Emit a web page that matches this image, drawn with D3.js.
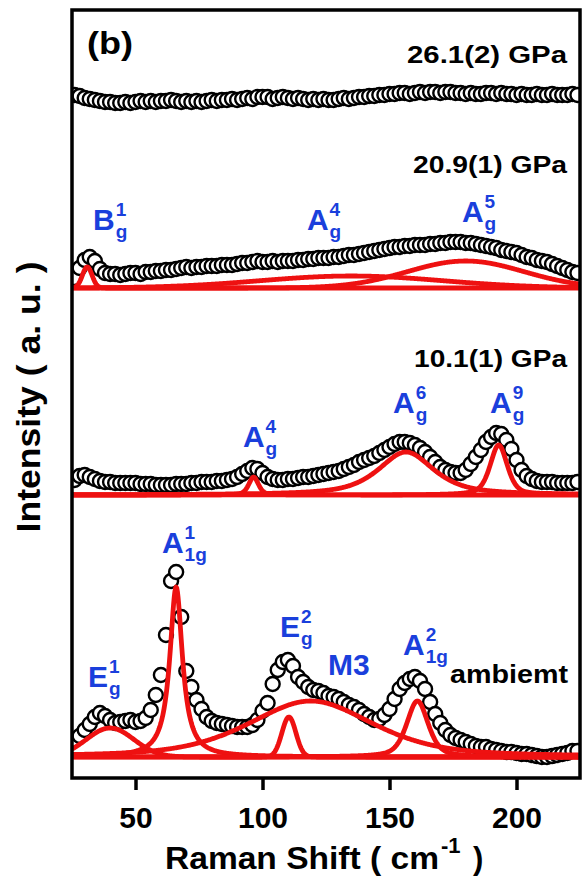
<!DOCTYPE html>
<html>
<head>
<meta charset="utf-8">
<script src="https://cdn.jsdelivr.net/npm/d3@7"></script>
<style>
body { margin: 0; background: #fff; }
svg text { font-family: "Liberation Sans", Arial, sans-serif; font-weight: bold; }
</style>
</head>
<body>
<svg id="chart" width="583" height="877"></svg>
<script>
// Raman shift grid (cm-1), one reading every 2 cm-1
const shift = d3.range(26, 225, 2)

// measured intensities (a.u.), each above its own baseline
const ambient = [
  17, 21, 27, 33, 40, 44, 41, 37, 34, 35,
  36, 37, 35, 36, 39, 47, 62, 82, 122, 176,
  185, 140, 86, 70, 57, 48, 40, 36, 34, 33,
  32, 31, 30, 30, 30, 32, 37, 46, 54, 73,
  87, 95, 97, 91, 80, 75, 70, 67, 66, 64,
  61, 60, 58, 55, 52, 50, 47, 43, 40, 37,
  38, 42, 48, 58, 68, 74, 78, 80, 76, 68,
  55, 43, 34, 27, 22, 19, 17, 15, 13, 11,
  10, 10, 8, 7, 6, 5, 5, 4, 3, 3,
  2, 1, 0, 0, 1, 2, 3, 4, 6, 6]

const gpa10 = [
  15, 19, 20, 18, 16, 14, 13, 13, 12, 12,
  12, 12, 12, 11, 11, 11, 10, 10, 10, 10,
  11, 11, 11, 12, 12, 13, 13, 13, 14, 14,
  15, 16, 18, 21, 24, 27, 26, 22, 18, 16,
  15, 15, 16, 16, 17, 18, 18, 19, 20, 21,
  22, 23, 24, 26, 28, 30, 33, 35, 37, 39,
  42, 45, 48, 51, 53, 53, 52, 50, 47, 43,
  38, 33, 28, 25, 23, 22, 22, 25, 31, 38,
  45, 53, 58, 62, 61, 55, 46, 35, 25, 19,
  16, 14, 13, 13, 13, 12, 12, 12, 12, 13]

const gpa21 = [
  10, 20, 28, 31, 27, 19, 15, 14, 14, 13,
  14, 15, 15, 14, 16, 16, 17, 17, 18, 18,
  19, 20, 21, 20, 21, 21, 22, 22, 22, 23,
  23, 23, 24, 25, 25, 26, 27, 26, 26, 27,
  26, 27, 27, 27, 28, 28, 29, 29, 30, 30,
  30, 31, 31, 32, 33, 33, 34, 35, 36, 37,
  38, 39, 40, 41, 41, 42, 42, 43, 43, 43,
  44, 44, 45, 45, 46, 46, 46, 45, 45, 44,
  43, 42, 41, 40, 38, 37, 36, 35, 33, 31,
  30, 28, 27, 26, 24, 22, 20, 18, 16, 15]

const gpa26 = [
  5, 4, 2, 1, 0, -1, -2, -2, -3, -3,
  -2, -3, -2, -1, -2, -1, -2, -1, -1, 0,
  -1, -2, -1, -2, -1, -2, -1, 0, -1, 0,
  0, 1, 0, 1, 2, 1, 3, 3, 3, 1,
  2, 3, 2, 1, 2, 1, 0, 1, 0, 1,
  0, 0, 1, 2, 1, 2, 3, 3, 4, 4,
  5, 5, 6, 6, 7, 7, 6, 7, 8, 7,
  8, 8, 7, 8, 8, 7, 7, 6, 7, 6,
  6, 7, 7, 6, 7, 6, 6, 5, 6, 5,
  5, 6, 5, 5, 6, 5, 5, 5, 6, 5]

// stacking offsets (a.u.) and pressure labels
const offsets = [21, 283, 490, 678]
const pressures = ['ambiemt', '10.1(1) GPa', '20.9(1) GPa', '26.1(2) GPa']

// fitted components: centre (cm-1), fwhm, height, lorentzian fraction
const ambientPeaks = [
  {mode: ['E', '1', 'g'], c: 40, w: 22, h: 29, eta: 0},
  {mode: ['A', '1', '1g'], c: 66, w: 6, h: 170, eta: 1},
  {mode: ['E', '2', 'g'], c: 110.4, w: 6.5, h: 40, eta: 0},
  {mode: ['M3', '', ''], c: 119, w: 58, h: 56, eta: 0.5},
  {mode: ['A', '2', '1g'], c: 161, w: 10, h: 56, eta: 0.5}
]
const gpa10Peaks = [
  {mode: ['A', '4', 'g'], c: 96.5, w: 4.5, h: 18, eta: 0.5},
  {mode: ['A', '6', 'g'], c: 156.5, w: 26, h: 43, eta: 0.7},
  {mode: ['A', '9', 'g'], c: 193, w: 8, h: 50, eta: 0.5}
]
const gpa21Peaks = [
  {mode: ['B', '1', 'g'], c: 31, w: 4.5, h: 21, eta: 0},
  {mode: ['A', '4', 'g'], c: 135, w: 85, h: 12, eta: 0},
  {mode: ['A', '5', 'g'], c: 180, w: 54, h: 27, eta: 0}
]

// where each mode label sits: [cm-1, a.u.]
const ambientLabelAt = [[31.3, 91], [60.4, 225], [106.9, 141], [125.8, 103], [155.3, 123]]
const gpa10LabelAt = [[92.3, 331], [151.4, 365], [189.6, 365]]
const gpa21LabelAt = [[33.3, 548], [117.5, 548], [178.5, 556]]

const xTicks = [50, 100, 150, 200]

const spectra = [
  {y: ambient, peaks: ambientPeaks, labels: ambientLabelAt},
  {y: gpa10, peaks: gpa10Peaks, labels: gpa10LabelAt},
  {y: gpa21, peaks: gpa21Peaks, labels: gpa21LabelAt},
  {y: gpa26, peaks: [], labels: []}
]

const margin = {top: 10, right: 3, bottom: 99, left: 72}
const W = 583, H = 877
const x = d3.scaleLinear().domain([25, 225]).range([margin.left, W - margin.right])
const y = d3.scaleLinear().domain([0, 768]).range([H - margin.bottom, margin.top])

const RED = '#ee1111', BLUE = '#1a3fdc'

const svg = d3.select('#chart')

svg.append('clipPath').attr('id', 'plotclip')
  .append('rect')
  .attr('x', x(25)).attr('y', y(768))
  .attr('width', x(225) - x(25)).attr('height', y(0) - y(768))

const plot = svg.append('g').attr('clip-path', 'url(#plotclip)')

function profile(p, v) {
  let u = (v - p.c) / p.w
  let g = Math.exp(-4 * Math.LN2 * u * u)
  let l = 1 / (1 + 4 * u * u)
  return p.h * (p.eta * l + (1 - p.eta) * g)
}

const fine = d3.range(25, 225.01, 0.25)

spectra.forEach((s, i) => {
  let off = offsets[i]
  let pts = shift.map((v, j) => [v, s.y[j] + off])

  plot.append('g').selectAll('circle')
    .data(pts)
    .join('circle')
    .attr('cx', d => x(d[0]))
    .attr('cy', d => y(d[1]))
    .attr('r', 7)
    .attr('fill', '#fff')
    .attr('stroke', '#000')
    .attr('stroke-width', 2.4)

  let line = d3.line().x(d => x(d[0])).y(d => y(d[1]))
  s.peaks.forEach(p => {
    plot.append('path')
      .datum(fine.map(v => [v, off + profile(p, v)]))
      .attr('d', line)
      .attr('fill', 'none')
      .attr('stroke', RED)
      .attr('stroke-width', 4.8)
      .attr('stroke-linejoin', 'round')
  })
})

// mode labels: main letter, superscript, subscript
spectra.forEach(s => {
  s.peaks.forEach((p, k) => {
    let at = s.labels[k]
    let g = svg.append('g').attr('fill', BLUE)
    let main = g.append('text')
      .attr('x', x(at[0])).attr('y', y(at[1]))
      .attr('font-size', 30)
      .text(p.mode[0])
    let wMain = main.node().getComputedTextLength()
    g.append('text')
      .attr('x', x(at[0]) + wMain + 1).attr('y', y(at[1]) - 14)
      .attr('font-size', 19)
      .text(p.mode[1])
    g.append('text')
      .attr('x', x(at[0]) + wMain + 1).attr('y', y(at[1]) + 8)
      .attr('font-size', 19)
      .text(p.mode[2])
  })
})

// pressure labels, right aligned near the frame
const pressAt = [[220.3, 95, 118, 25], [219.9, 411, 153, 24], [219.9, 605, 154, 24], [219.9, 715, 160, 24]]
pressures.forEach((t, i) => {
  let a = pressAt[i]
  svg.append('text')
    .attr('x', x(a[0]) - a[2]).attr('y', y(a[1]))
    .attr('font-size', a[3])
    .attr('textLength', a[2])
    .attr('lengthAdjust', 'spacingAndGlyphs')
    .text(t)
})

svg.append('text')
  .attr('x', 87).attr('y', 54)
  .attr('font-size', 31)
  .attr('textLength', 46)
  .attr('lengthAdjust', 'spacingAndGlyphs')
  .text('(b)')

// frame
svg.append('rect')
  .attr('x', x(25)).attr('y', y(768))
  .attr('width', x(225) - x(25)).attr('height', y(0) - y(768))
  .attr('fill', 'none').attr('stroke', '#000').attr('stroke-width', 3.5)

const xAxis = svg.append('g')
  .attr('transform', `translate(0,${y(0)})`)
  .call(d3.axisBottom(x).tickValues(xTicks).tickSize(12).tickPadding(17))
xAxis.select('.domain').remove()
xAxis.selectAll('.tick line').attr('stroke', '#000').attr('stroke-width', 3.5)
xAxis.selectAll('.tick text')
  .attr('fill', '#000')
  .attr('font-size', 30)
  .attr('font-family', '"Liberation Sans", Arial, sans-serif')

// axis titles
const xt = svg.append('g')
xt.append('text').attr('x', 165).attr('y', 869)
  .attr('font-size', 31).attr('textLength', 274).attr('lengthAdjust', 'spacingAndGlyphs')
  .text('Raman Shift ( cm')
xt.append('text').attr('x', 441).attr('y', 853)
  .attr('font-size', 22)
  .text('-1')
xt.append('text').attr('x', 473).attr('y', 869)
  .attr('font-size', 31)
  .text(')')

svg.append('text')
  .attr('transform', 'translate(40,397) rotate(-90)')
  .attr('text-anchor', 'middle')
  .attr('font-size', 33)
  .attr('textLength', 271).attr('lengthAdjust', 'spacingAndGlyphs')
  .text('Intensity ( a. u. )')
</script>
</body>
</html>
